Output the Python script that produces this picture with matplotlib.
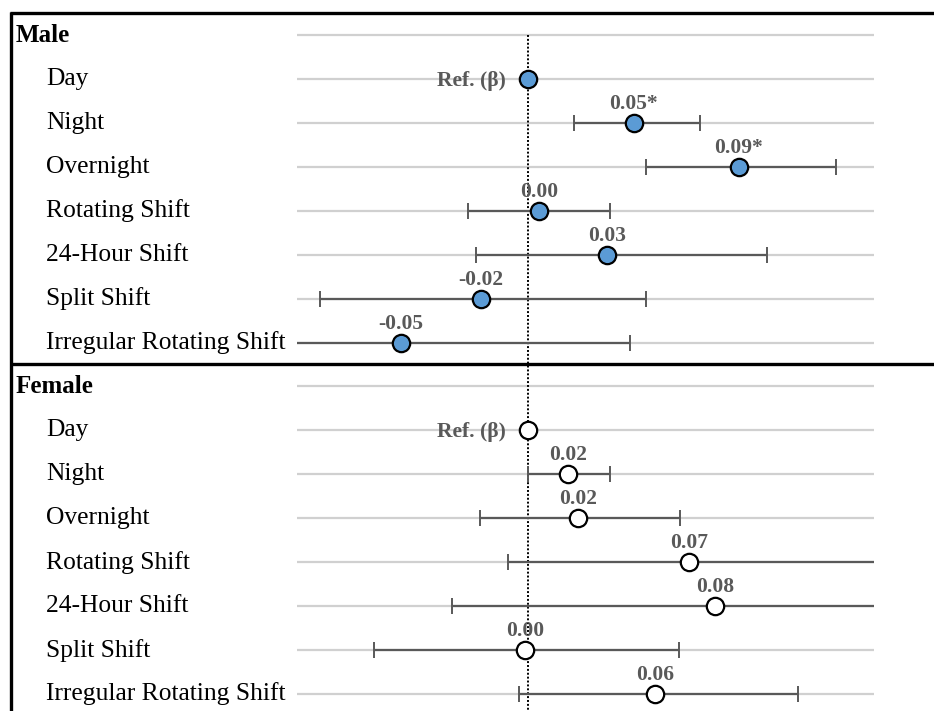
import matplotlib
matplotlib.use("Agg")
import matplotlib.pyplot as plt
from matplotlib.lines import Line2D
from matplotlib.transforms import blended_transform_factory
import numpy as np

# ---- data ----
categories = ["Day", "Night", "Overnight", "Rotating Shift", "24-Hour Shift",
              "Split Shift", "Irregular Rotating Shift"]
groups = ["Male", "Female"]

male_beta = [0.0, 0.0459, 0.0914, 0.0048, 0.0342, -0.0204, -0.0550]
male_low = [np.nan, 0.0199, 0.0511, -0.0260, -0.0225, -0.0901, -0.1100]
male_high = [np.nan, 0.0745, 0.1335, 0.0355, 0.1036, 0.0511, 0.0442]
male_labels = ["Ref. (β)", "0.05*", "0.09*", "0.00", "0.03", "-0.02", "-0.05"]

female_beta = [0.0, 0.0173, 0.0217, 0.0698, 0.0810, -0.0013, 0.0550]
female_low = [np.nan, 0.0000, -0.0208, -0.0087, -0.0330, -0.0667, -0.0039]
female_high = [np.nan, 0.0355, 0.0659, 0.1700, 0.1700, 0.0655, 0.1170]
female_labels = ["Ref. (β)", "0.02", "0.02", "0.07", "0.08", "0.00", "0.06"]

x_min, x_max = -0.10, 0.15

# ---- styling ----
W, H = 934, 711
DPI = 100
serif = ["Liberation Serif", "DejaVu Serif"]
gray = "#595959"
grid_c = "#d0d0d0"
blue = "#5b9bd5"

fig = plt.figure(figsize=(W / DPI, H / DPI), dpi=DPI)
fig.patch.set_facecolor("white")

ax_left, ax_right = 297, 874
ax = fig.add_axes([ax_left / W, 0, (ax_right - ax_left) / W, 1])
ax.set_xlim(x_min, x_max)
row0_px, row_step = 35, 43.93
ax.set_ylim((H - row0_px) / row_step, -row0_px / row_step)
ax.axis("off")

n = len(categories)
male_rows = np.arange(1, n + 1)
female_rows = np.arange(n + 2, 2 * n + 2)
header_rows = [0, n + 1]
all_rows = list(range(0, 2 * n + 2))

# gridlines
ax.hlines(all_rows, x_min, x_max, color=grid_c, lw=1.6, zorder=1)

# reference dotted line
ax.plot([0, 0], [0, (H - row0_px) / row_step], color="black", ls=(0, (1, 1.0)),
        lw=1.4, zorder=2)

trans = blended_transform_factory(fig.transFigure, ax.transData)

def draw_group(rows, beta, low, high, labels, fc):
    beta = np.array(beta); low = np.array(low); high = np.array(high)
    ok = ~np.isnan(low)
    ax.errorbar(beta[ok], rows[ok],
                xerr=[beta[ok] - low[ok], high[ok] - beta[ok]],
                fmt="none", ecolor=gray, elinewidth=1.6, capsize=5.5,
                capthick=1.4, zorder=3)
    ax.plot(beta, rows, ls="none", marker="o", ms=12.5, mfc=fc, mec="black",
            mew=1.6, zorder=4)
    for b, r, lab in zip(beta, rows, labels):
        if lab.startswith("Ref"):
            ax.annotate(lab, (b, r), xytext=(-16, -1.5), textcoords="offset points",
                        ha="right", va="center", fontsize=15.5, fontweight="bold",
                        color=gray, family=serif, zorder=5)
        else:
            ax.annotate(lab, (b, r), xytext=(0, 10), textcoords="offset points",
                        ha="center", va="baseline", fontsize=15.5,
                        fontweight="bold", color=gray, family=serif, zorder=5)

draw_group(male_rows, male_beta, male_low, male_high, male_labels, blue)
draw_group(female_rows, female_beta, female_low, female_high, female_labels, "white")

# text labels
for g, r in zip(groups, header_rows):
    ax.text(16 / W, r, g, transform=trans, ha="left", va="center",
            fontsize=18, fontweight="bold", family=serif, color="black",
            clip_on=False)
for rows in (male_rows, female_rows):
    for c, r in zip(categories, rows):
        ax.text(46 / W, r, c, transform=trans, ha="left", va="center",
                fontsize=18.4, family=serif, color="black", clip_on=False)

# borders
def fig_line(x0, y0, x1, y1, lw=2.4):
    fig.add_artist(Line2D([x0 / W, x1 / W], [1 - y0 / H, 1 - y1 / H],
                          transform=fig.transFigure, color="black", lw=lw,
                          solid_capstyle="butt"))

fig_line(10, 13, W, 13)
fig_line(10, 364, W, 364)
fig_line(11, 12, 11, H)

fig.savefig("out.png", dpi=DPI, facecolor="white")
